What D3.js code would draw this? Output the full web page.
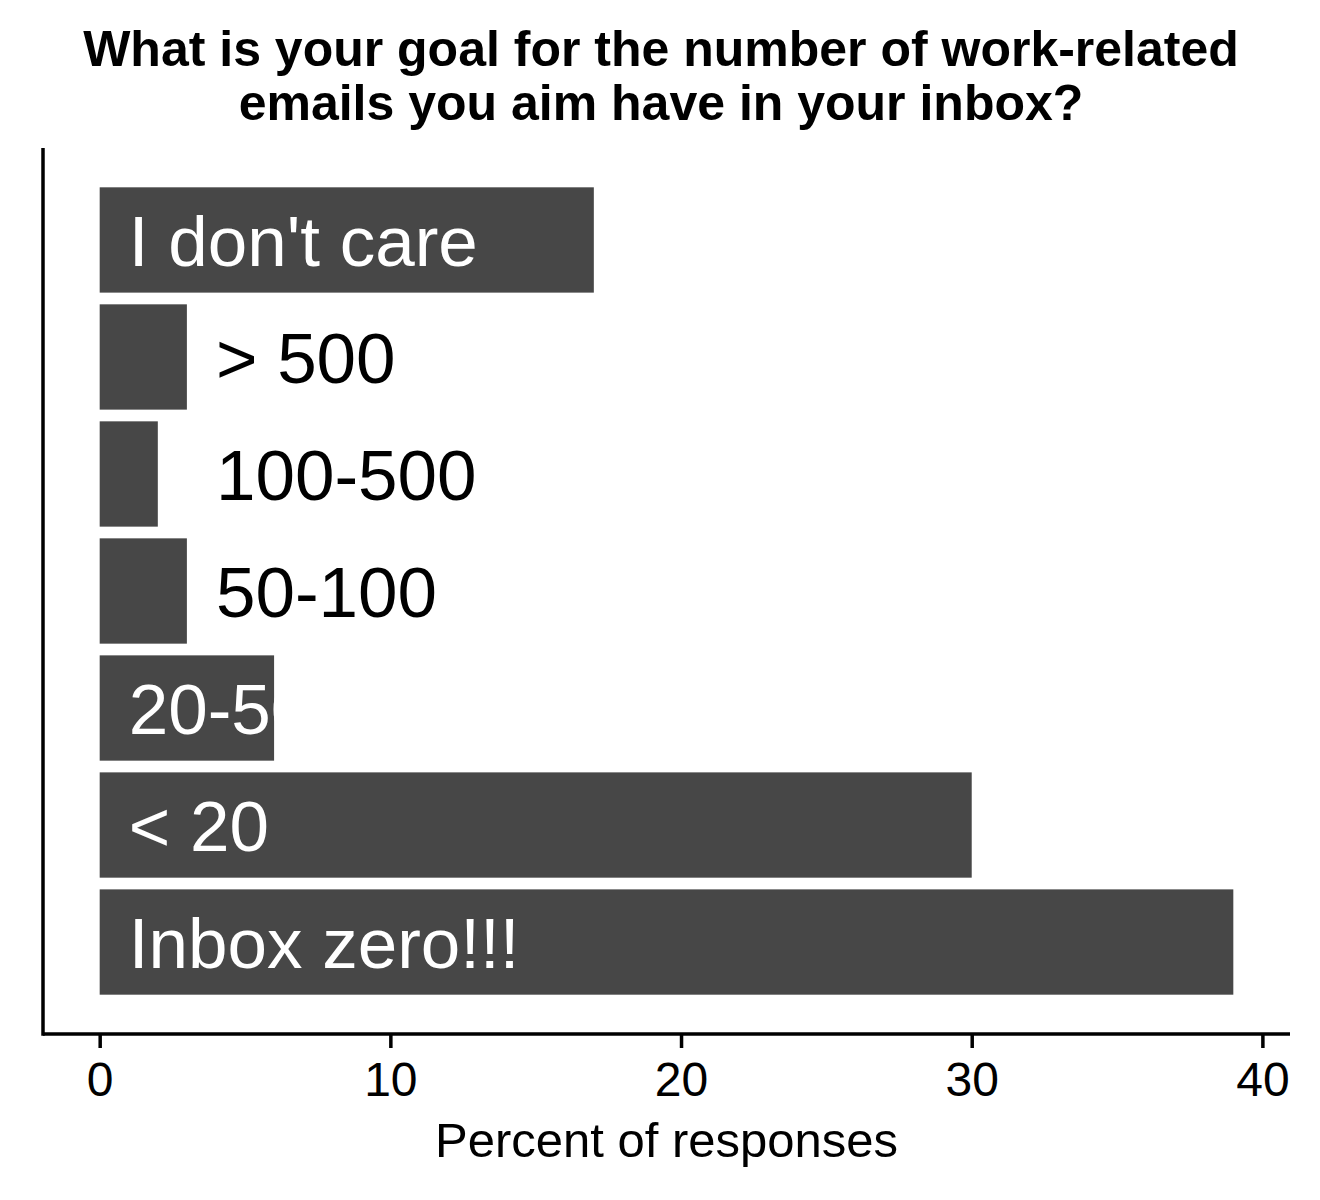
<!DOCTYPE html>
<html>
<head>
<meta charset="utf-8">
<script src="https://cdn.jsdelivr.net/npm/d3@7"></script>
<style>
html,body{margin:0;padding:0;background:#fff;}
text{font-family:"Liberation Sans",Arial,Helvetica,sans-serif;}
</style>
</head>
<body>
<svg id="chart" width="1320" height="1200"></svg>
<script>
const categories = ["I don't care", "> 500", "100-500", "50-100", "20-50", "< 20", "Inbox zero!!!"];
const values = [17, 3, 2, 3, 6, 30, 39];
const labelInside = [true, false, false, false, true, true, true];
const xTicks = [0, 10, 20, 30, 40];
const titleLines = ["What is your goal for the number of work-related", "emails you aim have in your inbox?"];
const xTitle = "Percent of responses";

(function () {
const svg = d3.select("#chart");
const pLeft = 43, pRight = 1290, pTop = 148, pBottom = 1034;
const maxV = d3.max(values);
const x = d3.scaleLinear().domain([-maxV * 0.05, maxV * 1.05]).range([pLeft, pRight]);
const y = d3.scaleBand().domain(categories).range([pTop, pBottom]).paddingInner(0.1).paddingOuter(0.336);

// title
svg.append("g").selectAll("text").data(titleLines).join("text")
  .attr("x", 661).attr("y", (d, i) => 66 + i * 54)
  .attr("text-anchor", "middle").attr("font-weight", "bold").attr("font-size", 50)
  .attr("fill", "#000").text(d => d);

// bars
svg.append("g").selectAll("rect").data(categories).join("rect")
  .attr("x", x(0)).attr("y", d => y(d))
  .attr("width", (d, i) => x(values[i]) - x(0))
  .attr("height", y.bandwidth())
  .attr("fill", "#474747");

// labels
svg.append("g").selectAll("text").data(categories).join("text")
  .attr("x", (d, i) => labelInside[i] ? x(1) : x(4))
  .attr("y", d => y(d) + y.bandwidth() / 2)
  .attr("dy", "0.36em")
  .attr("font-size", 71)
  .attr("fill", (d, i) => labelInside[i] ? "#fff" : "#000")
  .text(d => d);

// axes
const xAxis = d3.axisBottom(x).tickValues(xTicks).tickSize(14).tickPadding(14).tickSizeOuter(0);
const gx = svg.append("g").attr("transform", `translate(0,${pBottom})`).call(xAxis);
gx.select(".domain").remove();
gx.selectAll(".tick line").attr("stroke", "#000").attr("stroke-width", 3.5);
gx.selectAll(".tick text").attr("font-size", 48).attr("fill", "#000").attr("font-family", "Liberation Sans, Arial, sans-serif");

svg.append("line").attr("x1", pLeft).attr("x2", pRight).attr("y1", pBottom).attr("y2", pBottom)
  .attr("stroke", "#000").attr("stroke-width", 3.5);
svg.append("line").attr("x1", pLeft).attr("x2", pLeft).attr("y1", pTop).attr("y2", pBottom + 1.75)
  .attr("stroke", "#000").attr("stroke-width", 3.5);

svg.append("text").attr("x", (pLeft + pRight) / 2).attr("y", 1157)
  .attr("text-anchor", "middle").attr("font-size", 49).attr("fill", "#000").text(xTitle);
})();
</script>
</body>
</html>
